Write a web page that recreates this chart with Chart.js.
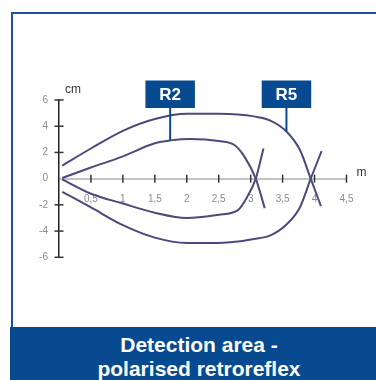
<!DOCTYPE html>
<html>
<head>
<meta charset="utf-8">
<script src="https://cdn.jsdelivr.net/npm/chart.js@4/dist/chart.umd.min.js"></script>
<style>
  html, body { margin: 0; padding: 0; background: #ffffff; }
  body { width: 376px; height: 380px; position: relative; overflow: hidden; font-family: "Liberation Sans", Arial, sans-serif; }
  #frame { position: absolute; left: 11px; top: 12px; width: 400px; height: 315px; border-left: 2px solid #1a52a0; border-top: 2px solid #1a52a0; box-sizing: border-box; }
  #bar { position: absolute; left: 10px; top: 327px; width: 378px; height: 60px; background: #074a90; color: #ffffff; font-weight: bold; font-size: 21px; line-height: 24px; text-align: center; padding-top: 6px; box-sizing: border-box; }
  #wrap { position: absolute; left: 0; top: 0; width: 376px; height: 380px; }
</style>
</head>
<body>
<div id="frame"></div>
<div id="bar">Detection area -<br>polarised retroreflex</div>
<div id="wrap"><canvas id="c" width="376" height="380"></canvas></div>
<script>
// ---- data (distance in m, half-width in cm) ----
const xTicks = [0, 0.5, 1, 1.5, 2, 2.5, 3, 3.5, 4, 4.5];
const yTicks = [-6, -4, -2, 0, 2, 4, 6];

const r5UpperX = [0.05, 0.5, 1.0, 1.5, 2.0, 2.5, 2.8, 3.05, 3.3, 3.56, 3.77, 3.94, 4.1];
const r5UpperY = [1.0, 2.3, 3.65, 4.55, 4.95, 4.95, 4.9, 4.75, 4.45, 3.6, 2.2, 0, -2.1];
const r5LowerX = [0.05, 0.5, 1.0, 1.5, 2.0, 2.5, 2.8, 3.05, 3.3, 3.56, 3.77, 3.94, 4.11];
const r5LowerY = [-1.0, -2.2, -3.55, -4.5, -4.9, -4.9, -4.8, -4.6, -4.35, -3.5, -2.2, 0, 2.1];

const r2UpperX = [0.05, 0.5, 1.0, 1.5, 1.75, 2.05, 2.5, 2.75, 2.9, 3.08, 3.22];
const r2UpperY = [0.05, 0.85, 1.7, 2.7, 2.92, 3.03, 2.87, 2.55, 1.7, 0, -2.25];
const r2LowerX = [0.05, 0.5, 1.0, 1.5, 2.0, 2.5, 2.8, 2.95, 3.08, 3.2];
const r2LowerY = [-0.05, -1.15, -1.9, -2.6, -3.0, -2.75, -2.4, -1.35, 0, 2.3];

const labelNames = ["R2", "R5"];
const labelX = [1.74, 3.56];
const labelY = [2.92, 3.6];

function pts(xs, ys) { return xs.map((x, i) => ({ x: x, y: ys[i] })); }

const lineColor = '#4a4a7c';
function ds(xs, ys) {
  return { data: pts(xs, ys), showLine: true, borderColor: lineColor, borderWidth: 2,
           pointRadius: 0, cubicInterpolationMode: 'monotone', fill: false };
}

const decorPlugin = {
  id: 'decor',
  beforeDatasetsDraw(chart) {
    const ctx = chart.ctx, xs = chart.scales.x, ys = chart.scales.y;
    const y0 = ys.getPixelForValue(0), xL = xs.getPixelForValue(0);
    ctx.save();
    ctx.strokeStyle = '#333333';
    ctx.lineWidth = 1.5;
    xTicks.forEach(v => {
      if (v === 0) return;
      const px = xs.getPixelForValue(v);
      ctx.beginPath(); ctx.moveTo(px, y0 - 4); ctx.lineTo(px, y0 + 4); ctx.stroke();
    });
    yTicks.forEach(v => {
      if (v === 0) return;
      const py = ys.getPixelForValue(v);
      ctx.beginPath(); ctx.moveTo(xL - 4.5, py); ctx.lineTo(xL + 4.5, py); ctx.stroke();
    });
    ctx.fillStyle = '#333333';
    ctx.font = '12px "Liberation Sans", Arial, sans-serif';
    ctx.textAlign = 'left'; ctx.textBaseline = 'alphabetic';
    ctx.fillText('cm', xL + 6, chart.chartArea.top - 7.5);
    ctx.fillText('m', xs.getPixelForValue(4.5) + 10, y0 - 3);
    ctx.restore();
  },
  afterDraw(chart) {
    const ctx = chart.ctx, xs = chart.scales.x, ys = chart.scales.y;
    ctx.save();
    labelNames.forEach((name, i) => {
      const px = xs.getPixelForValue(labelX[i]);
      const py = ys.getPixelForValue(labelY[i]);
      const boxTop = 80.5, boxH = 27.5, boxW = 49.5;
      ctx.strokeStyle = '#074a90'; ctx.lineWidth = 2;
      ctx.beginPath(); ctx.moveTo(px, boxTop + boxH); ctx.lineTo(px, py); ctx.stroke();
      ctx.fillStyle = '#074a90';
      ctx.fillRect(px - boxW / 2, boxTop, boxW, boxH);
      ctx.fillStyle = '#ffffff';
      ctx.font = 'bold 17px "Liberation Sans", Arial, sans-serif';
      ctx.textAlign = 'center'; ctx.textBaseline = 'middle';
      ctx.fillText(name, px, boxTop + boxH / 2 + 1);
    });
    ctx.restore();
  }
};

new Chart(document.getElementById('c'), {
  type: 'scatter',
  data: { datasets: [ds(r5UpperX, r5UpperY), ds(r5LowerX, r5LowerY), ds(r2UpperX, r2UpperY), ds(r2LowerX, r2LowerY)] },
  options: {
    responsive: false, animation: false, devicePixelRatio: 1,
    layout: { padding: { left: 0, right: 29.5, top: 100, bottom: 122.7 } },
    plugins: { legend: { display: false }, tooltip: { enabled: false } },
    scales: {
      x: {
        type: 'linear', min: 0, max: 4.5, position: { y: 0 },
        afterBuildTicks: s => { s.ticks = xTicks.map(v => ({ value: v })); },
        ticks: { color: '#8a8a8a', font: { size: 10, family: '"Liberation Sans", Arial, sans-serif' }, padding: 15,
                 maxRotation: 0, autoSkip: false,
                 callback: v => v === 0 ? '' : String(v).replace('.', ',') },
        grid: { display: false, drawTicks: false },
        border: { display: true, color: '#c4c4c4', width: 2 }
      },
      y: {
        type: 'linear', min: -6, max: 6, position: 'left',
        afterBuildTicks: s => { s.ticks = yTicks.map(v => ({ value: v })); },
        afterFit: s => { s.width = 59; },
        ticks: { color: '#8a8a8a', font: { size: 10, family: '"Liberation Sans", Arial, sans-serif' }, padding: 11,
                 callback: v => String(v) },
        grid: { display: false, drawTicks: false },
        border: { display: true, color: '#222222', width: 1.5 }
      }
    }
  },
  plugins: [decorPlugin]
});
</script>
</body>
</html>
